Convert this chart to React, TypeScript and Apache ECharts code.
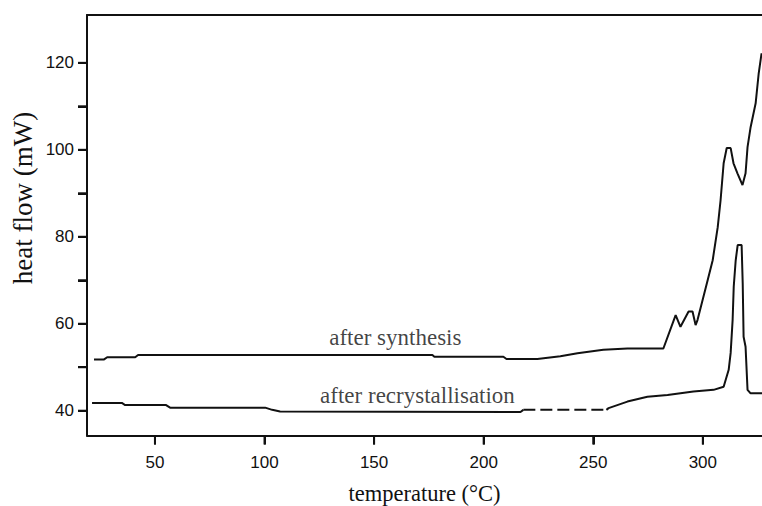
import React, { useEffect, useRef } from "react";
import * as echarts from "echarts";

// after synthesis: [temperature °C, heat flow mW]
const synthesisT = [22.2, 26.8, 28.2, 41.0, 42.3, 176.6, 177.5, 209.0, 210.4, 224.5, 235.0, 242.8, 254.6, 265.6, 282.0, 287.6, 289.8, 293.5, 295.3, 296.7, 297.6, 302.2, 304.5, 306.8, 308.1, 309.5, 310.9, 312.7, 314.0, 315.8, 318.1, 319.5, 320.4, 321.8, 324.1, 325.5, 326.8];
const synthesisV = [51.8, 51.8, 52.3, 52.3, 52.8, 52.8, 52.4, 52.4, 51.9, 51.9, 52.5, 53.2, 54.0, 54.3, 54.3, 62.0, 59.3, 62.8, 62.8, 59.7, 60.9, 70.0, 74.6, 82.2, 88.4, 96.9, 100.4, 100.4, 96.9, 94.6, 91.9, 94.6, 100.6, 105.2, 110.7, 117.6, 122.2];

// after recrystallisation: solid part 1, dashed part, solid part 2
const recrystT1 = [21.3, 34.9, 36.4, 55.1, 56.9, 100.3, 103.5, 107.1, 216.8, 218.1];
const recrystV1 = [41.8, 41.8, 41.3, 41.3, 40.7, 40.7, 40.2, 39.8, 39.7, 40.2];
const recrystDashT = [218.1, 256.0];
const recrystDashV = [40.2, 40.2];
const recrystT2 = [256.0, 257.0, 265.6, 274.7, 283.9, 295.7, 304.9, 309.5, 311.8, 312.7, 313.6, 314.1, 315.0, 315.9, 317.7, 318.2, 318.6, 319.5, 320.4, 321.8, 327.3];
const recrystV2 = [40.2, 40.6, 42.1, 43.2, 43.6, 44.4, 44.8, 45.5, 49.4, 53.3, 60.9, 68.5, 74.6, 78.1, 78.1, 69.3, 57.0, 54.7, 44.8, 44.0, 44.0];

const xTicks = [50, 100, 150, 200, 250, 300];
const yTicks = [40, 50, 60, 70, 80, 90, 100, 110, 120];
const yLabels = [40, 60, 80, 100, 120];

const X_MIN = 19;
const X_MAX = 327;
const Y_MIN = 34.3;
const Y_MAX = 131;

const labels = [
  { text: "after synthesis", t: 159.7, v: 56.9 },
  { text: "after recrystallisation", t: 169.8, v: 43.6 },
];

const zip = (a: number[], b: number[]) => a.map((x, i) => [x, b[i]]);

export default function App() {
  const ref = useRef<HTMLDivElement>(null);
  useEffect(() => {
    if (!ref.current) return;
    const chart = echarts.init(ref.current, null, { renderer: "svg" });
    const lineStyle = { color: "#111", width: 2 };
    const serif = "Liberation Serif";
    const sans = "Liberation Sans";
    const tickLine = { color: "#111", width: 2 };
    chart.setOption({
      animation: false,
      backgroundColor: "#fff",
      grid: { left: 87, right: 0, top: 15, bottom: 70.5, containLabel: false, outerBoundsMode: "none" },
      xAxis: [
        {
          type: "value",
          min: X_MIN,
          max: X_MAX,
          axisLine: { lineStyle: { color: "#111", width: 2 } },
          axisTick: { show: true, customValues: xTicks, length: 9, lineStyle: tickLine },
          axisLabel: {
            customValues: xTicks,
            margin: 0,
            formatter: (v: number) => `{t|}\n{v|${v}}`,
            rich: {
              t: { width: 2, height: 9, lineHeight: 9, backgroundColor: "#111" },
              v: { fontFamily: sans, fontSize: 17, color: "#111", lineHeight: 36 },
            },
          },
          splitLine: { show: false },
          name: "temperature (°C)",
          nameLocation: "middle",
          nameGap: 46,
          nameTextStyle: { fontFamily: serif, fontSize: 22.5, color: "#111" },
        },
        {
          type: "value",
          position: "top",
          min: X_MIN,
          max: X_MAX,
          axisLine: { show: true, lineStyle: { color: "#111", width: 2 } },
          axisTick: { show: false },
          axisLabel: { show: false },
          splitLine: { show: false },
        },
      ],
      yAxis: {
        type: "value",
        min: Y_MIN,
        max: Y_MAX,
        axisLine: { show: true, lineStyle: { color: "#111", width: 2 } },
        axisTick: { show: true, customValues: yTicks, length: 9, lineStyle: tickLine },
        axisLabel: {
          customValues: yTicks,
          margin: 0,
          formatter: (v: number) => (yLabels.includes(v) ? `{v|${v}}` : "") + "{t|}",
          rich: {
            v: { fontFamily: sans, fontSize: 17, color: "#111", padding: [0, 4, 0, 0] },
            t: { width: 9, height: 2, backgroundColor: "#111" },
          },
        },
        splitLine: { show: false },
      },
      graphic: [
        {
          type: "text",
          x: 23,
          y: 198,
          rotation: Math.PI / 2,
          style: {
            text: "heat flow (mW)",
            font: `27px "${serif}"`,
            fill: "#111",
            align: "center",
            verticalAlign: "middle",
          },
        },
      ],
      series: [
        {
          type: "line",
          data: zip(synthesisT, synthesisV),
          symbol: "none",
          lineStyle,
        },
        {
          type: "line",
          data: zip(recrystT1, recrystV1),
          symbol: "none",
          lineStyle,
        },
        {
          type: "line",
          data: zip(recrystDashT, recrystDashV),
          symbol: "none",
          lineStyle: { ...lineStyle, type: [12, 5] },
        },
        {
          type: "line",
          data: zip(recrystT2, recrystV2),
          symbol: "none",
          lineStyle,
        },
        {
          type: "scatter",
          data: labels.map((l) => ({ value: [l.t, l.v], name: l.text })),
          symbolSize: 0,
          label: {
            show: true,
            position: "inside",
            formatter: (p: any) => p.name,
            fontFamily: serif,
            fontSize: 23,
            color: "#111",
          },
          silent: true,
        },
      ],
    });
    return () => chart.dispose();
  }, []);
  return (
    <div
      ref={ref}
      style={{ position: "fixed", left: 0, top: 0, width: 762, height: 506, background: "#fff" }}
    />
  );
}
